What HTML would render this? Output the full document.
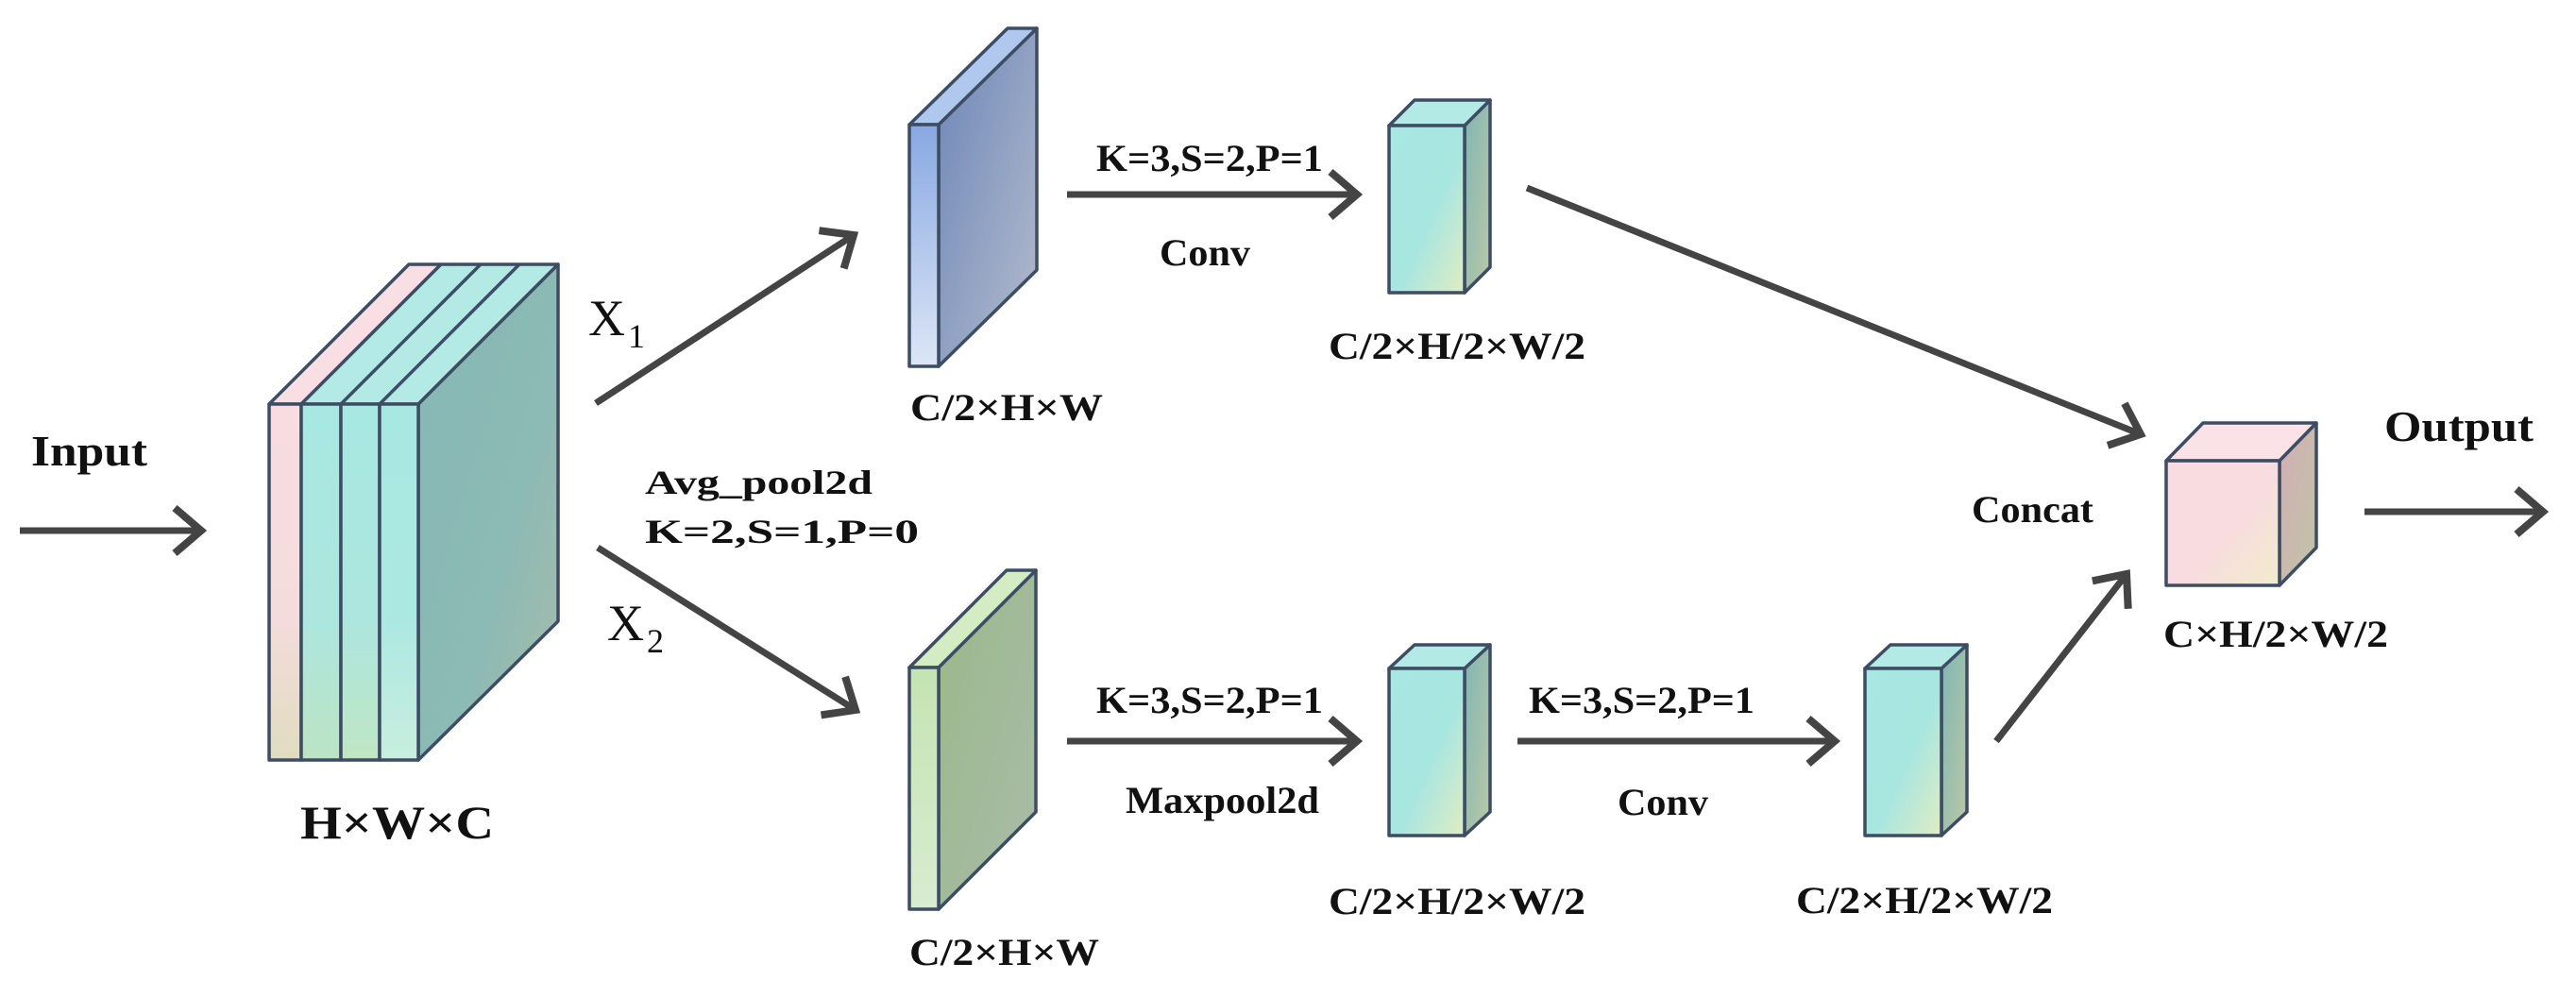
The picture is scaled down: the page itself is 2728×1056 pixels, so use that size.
<!DOCTYPE html>
<html><head><meta charset="utf-8"><style>
html,body{margin:0;padding:0;background:#fff;}
svg{display:block;}
text{font-family:"Liberation Serif",serif;fill:#111;}
.b{font-weight:bold;}
</style></head><body>
<svg width="2728" height="1056" viewBox="0 0 2728 1056" xmlns="http://www.w3.org/2000/svg">
<defs>
<marker id="ah" markerUnits="userSpaceOnUse" markerWidth="80" markerHeight="80" refX="0" refY="0" viewBox="-40 -40 80 80" orient="auto" overflow="visible">
<path d="M -28 -24 L 0 0 L -28 24" fill="none" stroke="#444" stroke-width="8" stroke-linecap="butt" stroke-linejoin="miter"/>
</marker>
<linearGradient id="gSide" x1="0" y1="0" x2="1" y2="1"><stop offset="0" stop-color="#86b8b6"/><stop offset="0.6" stop-color="#8cbab4"/><stop offset="1" stop-color="#a8bcaa"/></linearGradient>
<linearGradient id="gPink" x1="0" y1="0" x2="0" y2="1"><stop offset="0" stop-color="#f8dce0"/><stop offset="0.6" stop-color="#f4dcdc"/><stop offset="1" stop-color="#e0dcc0"/></linearGradient>
<linearGradient id="gCy1" x1="0" y1="0" x2="0" y2="1"><stop offset="0" stop-color="#a8e8e2"/><stop offset="0.6" stop-color="#ace6de"/><stop offset="1" stop-color="#bce4c4"/></linearGradient>
<linearGradient id="gCy2" x1="0" y1="0" x2="0" y2="1"><stop offset="0" stop-color="#a8e8e2"/><stop offset="0.6" stop-color="#ace6de"/><stop offset="1" stop-color="#c0e6c4"/></linearGradient>
<linearGradient id="gCy3" x1="0" y1="0" x2="0" y2="1"><stop offset="0" stop-color="#a8e8e2"/><stop offset="0.6" stop-color="#ace8e2"/><stop offset="1" stop-color="#c8eede"/></linearGradient>
<linearGradient id="gBlueF" x1="0" y1="0" x2="0" y2="1"><stop offset="0" stop-color="#88a8e2"/><stop offset="1" stop-color="#dce6f6"/></linearGradient>
<linearGradient id="gBlueS" x1="0" y1="0" x2="1" y2="1"><stop offset="0" stop-color="#6c86b8"/><stop offset="1" stop-color="#b4bccc"/></linearGradient>
<linearGradient id="gGrF" x1="0" y1="0" x2="0" y2="1"><stop offset="0" stop-color="#c4e4b2"/><stop offset="1" stop-color="#d8ecd0"/></linearGradient>
<linearGradient id="gGrS" x1="0" y1="0" x2="1" y2="1"><stop offset="0" stop-color="#9ab88a"/><stop offset="1" stop-color="#aabca8"/></linearGradient>
<linearGradient id="gCubeF" x1="0" y1="0" x2="1" y2="1"><stop offset="0" stop-color="#a8e8e2"/><stop offset="0.55" stop-color="#a8e6e0"/><stop offset="1" stop-color="#e0ecc4"/></linearGradient>
<linearGradient id="gCubeS" x1="0" y1="0" x2="1" y2="1"><stop offset="0" stop-color="#7eb6b4"/><stop offset="1" stop-color="#bcc8a6"/></linearGradient>
<linearGradient id="gPkF" x1="0" y1="0" x2="1" y2="1"><stop offset="0" stop-color="#f8dce0"/><stop offset="0.55" stop-color="#f8dcdf"/><stop offset="1" stop-color="#f0eccc"/></linearGradient>
<linearGradient id="gPkS" x1="0" y1="0" x2="1" y2="1"><stop offset="0" stop-color="#d2aeb6"/><stop offset="1" stop-color="#c0c4a6"/></linearGradient>
</defs>

<g stroke="#3d4d63" stroke-width="3.5" stroke-linejoin="round">
<!-- big block -->
<polygon points="443,428 591,280 591,658 443,805" fill="url(#gSide)"/>
<polygon points="285,428 319,428 467,280 433,280" fill="#f9dfe3"/>
<polygon points="319,428 443,428 591,280 467,280" fill="#b4eae6"/>
<line x1="361" y1="428" x2="509" y2="280"/>
<line x1="402" y1="428" x2="550" y2="280"/>
<rect x="285" y="428" width="34" height="377" fill="url(#gPink)"/>
<rect x="319" y="428" width="42" height="377" fill="url(#gCy1)"/>
<rect x="361" y="428" width="41" height="377" fill="url(#gCy2)"/>
<rect x="402" y="428" width="41" height="377" fill="url(#gCy3)"/>

<!-- blue plate -->
<polygon points="994,132 1098,30 1098,286 994,388" fill="url(#gBlueS)"/>
<polygon points="963,132 994,132 1098,30 1067,30" fill="#b0c8ee"/>
<rect x="963" y="132" width="31" height="256" fill="url(#gBlueF)"/>

<!-- green plate -->
<polygon points="994,707 1097,604 1097,860 994,963" fill="url(#gGrS)"/>
<polygon points="963,707 994,707 1097,604 1066,604" fill="#d4ecc4"/>
<rect x="963" y="707" width="31" height="256" fill="url(#gGrF)"/>

<!-- cube 1 -->
<polygon points="1551,133 1578,106 1578,283 1551,310" fill="url(#gCubeS)"/>
<polygon points="1471,133 1551,133 1578,106 1498,106" fill="#b4eae6"/>
<rect x="1471" y="133" width="80" height="177" fill="url(#gCubeF)"/>

<!-- cube 2 -->
<polygon points="1551,708 1578,683 1578,860 1551,885" fill="url(#gCubeS)"/>
<polygon points="1471,708 1551,708 1578,683 1498,683" fill="#b4eae6"/>
<rect x="1471" y="708" width="80" height="177" fill="url(#gCubeF)"/>

<!-- cube 3 -->
<polygon points="2056,708 2083,683 2083,860 2056,885" fill="url(#gCubeS)"/>
<polygon points="1975,708 2056,708 2083,683 2002,683" fill="#b4eae6"/>
<rect x="1975" y="708" width="81" height="177" fill="url(#gCubeF)"/>

<!-- pink cube -->
<polygon points="2414,488 2453,448 2453,580 2414,620" fill="url(#gPkS)"/>
<polygon points="2294,488 2414,488 2453,448 2333,448" fill="#fbe2e6"/>
<rect x="2294" y="488" width="120" height="132" fill="url(#gPkF)"/>
</g>

<!-- arrows -->
<g stroke="#444" stroke-width="7" fill="none" marker-end="url(#ah)">
<line x1="21" y1="562" x2="213" y2="562"/>
<line x1="631" y1="427" x2="904" y2="249"/>
<line x1="633" y1="580" x2="906" y2="752"/>
<line x1="1130" y1="206" x2="1437" y2="206"/>
<line x1="1130" y1="785" x2="1437" y2="785"/>
<line x1="1607" y1="785" x2="1943" y2="785"/>
<line x1="1617" y1="199" x2="2267" y2="460"/>
<line x1="2114" y1="785" x2="2252" y2="608"/>
<line x1="2504" y1="542" x2="2693" y2="542"/>
</g>

<!-- text -->
<text class="b" x="33" y="493" font-size="46" textLength="123" lengthAdjust="spacingAndGlyphs">Input</text>
<text class="b" x="2525" y="467" font-size="46" textLength="158" lengthAdjust="spacingAndGlyphs">Output</text>
<text class="b" x="318" y="888" font-size="50" textLength="205" lengthAdjust="spacingAndGlyphs">H×W×C</text>
<text x="623" y="355" font-size="54">X</text><text x="665" y="368" font-size="36">1</text>
<text x="643" y="678" font-size="54">X</text><text x="685" y="691" font-size="36">2</text>
<text class="b" x="683" y="523" font-size="36" textLength="241" lengthAdjust="spacingAndGlyphs">Avg_pool2d</text>
<text class="b" x="683" y="575" font-size="36" textLength="290" lengthAdjust="spacingAndGlyphs">K=2,S=1,P=0</text>

<text class="b" x="1161" y="181" font-size="40" textLength="240" lengthAdjust="spacingAndGlyphs">K=3,S=2,P=1</text>
<text class="b" x="1228" y="281" font-size="40" textLength="96" lengthAdjust="spacingAndGlyphs">Conv</text>
<text class="b" x="964" y="445" font-size="40" textLength="204" lengthAdjust="spacingAndGlyphs">C/2×H×W</text>
<text class="b" x="1407" y="380" font-size="40" textLength="272" lengthAdjust="spacingAndGlyphs">C/2×H/2×W/2</text>

<text class="b" x="1161" y="755" font-size="40" textLength="240" lengthAdjust="spacingAndGlyphs">K=3,S=2,P=1</text>
<text class="b" x="1192" y="861" font-size="40" textLength="205" lengthAdjust="spacingAndGlyphs">Maxpool2d</text>
<text class="b" x="963" y="1022" font-size="40" textLength="201" lengthAdjust="spacingAndGlyphs">C/2×H×W</text>
<text class="b" x="1407" y="968" font-size="40" textLength="272" lengthAdjust="spacingAndGlyphs">C/2×H/2×W/2</text>

<text class="b" x="1619" y="755" font-size="40" textLength="239" lengthAdjust="spacingAndGlyphs">K=3,S=2,P=1</text>
<text class="b" x="1713" y="863" font-size="40" textLength="96" lengthAdjust="spacingAndGlyphs">Conv</text>
<text class="b" x="1902" y="967" font-size="40" textLength="272" lengthAdjust="spacingAndGlyphs">C/2×H/2×W/2</text>

<text class="b" x="2088" y="553" font-size="40" textLength="129" lengthAdjust="spacingAndGlyphs">Concat</text>
<text class="b" x="2291" y="685" font-size="40" textLength="238" lengthAdjust="spacingAndGlyphs">C×H/2×W/2</text>
</svg>
</body></html>
